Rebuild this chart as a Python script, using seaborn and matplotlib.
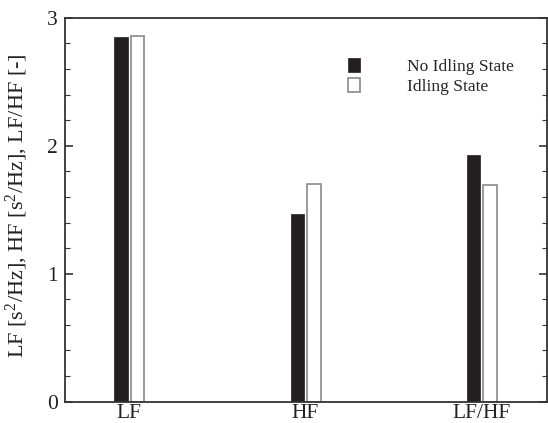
import matplotlib
matplotlib.use("Agg")
import matplotlib.pyplot as plt
from matplotlib.ticker import MultipleLocator
from matplotlib.patches import Patch
import seaborn as sns
import pandas as pd

# HRV spectral indices per driving state
bands = ["LF", "HF", "LF/HF"]
no_idling = [2.85, 1.47, 1.93]
idling = [2.86, 1.70, 1.69]
states = ["No Idling State", "Idling State"]

df = pd.DataFrame({
    "band": bands * 2,
    "value": no_idling + idling,
    "state": [states[0]] * 3 + [states[1]] * 3,
})

sns.set_style("ticks")
plt.rcParams["font.family"] = ["Liberation Serif", "DejaVu Serif"]
plt.rcParams["mathtext.fontset"] = "custom"
plt.rcParams["mathtext.rm"] = "Liberation Serif"
plt.rcParams["mathtext.it"] = "Liberation Serif"

fig = plt.figure(figsize=(5.48, 4.23), dpi=100)
ax = fig.add_axes([0.1186, 0.0504, 0.8794, 0.9076])

dark = "#231f20"
edge_gray = "#8a8a8a"
sns.barplot(data=df, x="band", y="value", hue="state", order=bands,
            hue_order=states, palette=[dark, "white"], width=0.185,
            gap=0.16, ax=ax, legend=False, linewidth=0, saturation=1)

# black bars solid, white bars with a grey outline
for patch in ax.containers[0]:
    patch.set_edgecolor(dark)
    patch.set_linewidth(0.5)
for patch in ax.containers[1]:
    patch.set_edgecolor(edge_gray)
    patch.set_linewidth(1.2)

ax.set_xlim(-0.365, 2.37)
ax.set_ylim(0, 3)
ax.yaxis.set_major_locator(MultipleLocator(1))
ax.yaxis.set_minor_locator(MultipleLocator(0.2))
ax.tick_params(axis="y", which="both", direction="in", left=True, right=True,
               colors="#333333", labelcolor="#222222", labelsize=15.5, pad=5)
ax.tick_params(axis="y", which="major", length=6, width=1.2)
ax.tick_params(axis="y", which="minor", length=3.5, width=0.8)
ax.tick_params(axis="x", length=0, labelsize=15.5, pad=2, labelcolor="#222222")

for side in ["left", "right", "top", "bottom"]:
    ax.spines[side].set_visible(True)
    ax.spines[side].set_linewidth(1.3)
    ax.spines[side].set_color("#333333")

ax.set_xlabel("")
ax.set_ylabel(r"LF [s$^2$/Hz], HF [s$^2$/Hz], LF/HF [-]", fontsize=16,
              color="#222222", labelpad=7)
ax.yaxis.set_label_coords(-0.073, 0.51)

handles = [Patch(facecolor=dark, edgecolor=dark, linewidth=0.5),
           Patch(facecolor="white", edgecolor=edge_gray, linewidth=1.2)]
ax.legend(handles, states, loc="upper left", bbox_to_anchor=(0.554, 0.937),
          frameon=False, fontsize=12.5, handlelength=0.69, handleheight=0.86,
          handletextpad=2.76, labelspacing=0.2)

fig.savefig("out.png", dpi=100)
